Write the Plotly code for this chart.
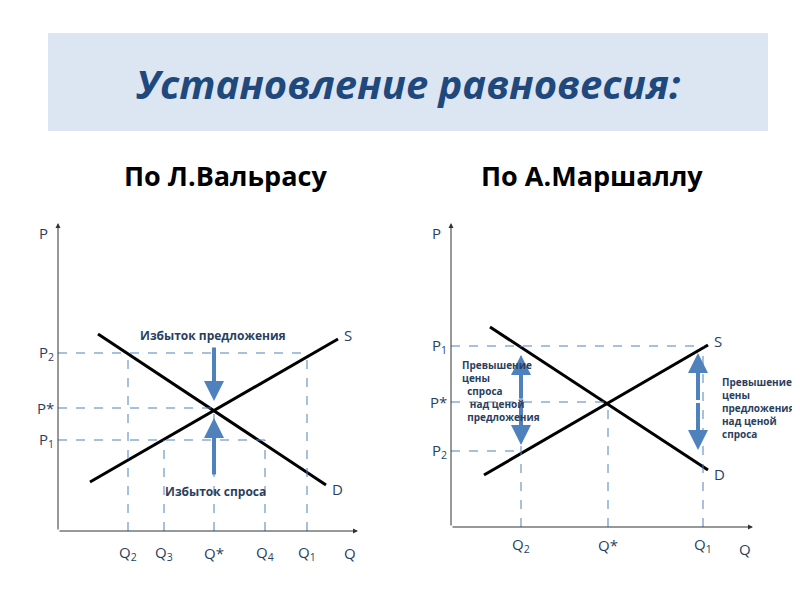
import plotly.graph_objects as go

# Left diagram (Walras), units: x from origin rightwards, y from origin upwards
w_supply_x = [32, 280]
w_supply_y = [49, 192]
w_demand_x = [40, 268]
w_demand_y = [197, 46]
w_eq = (156, 123)
w_price_lvls = {"P<sub>2</sub>": 178, "P*": 123, "P<sub>1</sub>": 91}
w_qty = {"Q<sub>2</sub>": 70, "Q<sub>3</sub>": 106, "Q*": 156, "Q<sub>4</sub>": 207, "Q<sub>1</sub>": 249}

# Right diagram (Marshall)
m_supply_x = [33, 257]
m_supply_y = [52, 182]
m_demand_x = [39, 257]
m_demand_y = [200, 57]
m_eq = (157, 125)
m_price_lvls = {"P<sub>1</sub>": 181, "P*": 125, "P<sub>2</sub>": 76}
m_qty = {"Q<sub>2</sub>": 70, "Q*": 157, "Q<sub>1</sub>": 252}

W, H = 800, 600
fig = go.Figure()
blue = "#4f81bd"
font = "Open Sans, Liberation Sans, sans-serif"


def dom_x(x0, x1):
    return [x0 / W, x1 / W]


def dom_y(top, bottom):
    return [1 - bottom / H, 1 - top / H]


fig.update_layout(
    width=W, height=H, margin=dict(l=0, r=0, t=0, b=0),
    paper_bgcolor="white", plot_bgcolor="rgba(0,0,0,0)", showlegend=False,
    xaxis=dict(domain=dom_x(0, 350), range=[-50, 300], visible=False),
    yaxis=dict(domain=dom_y(215, 563), range=[-40, 308], visible=False),
    xaxis2=dict(domain=dom_x(393, 795), range=[-50, 352], visible=False),
    yaxis2=dict(domain=dom_y(215, 559), range=[-40, 304], visible=False),
)

annotations = []
shapes = [
    dict(type="rect", xref="paper", yref="paper", x0=40 / W, x1=760 / W,
         y0=1 - 123 / H, y1=1 - 25 / H, fillcolor="#dce6f2", line_width=0, layer="below"),
]
annotations += [
    dict(xref="paper", yref="paper", x=0.5, y=1 - 75 / H, showarrow=False,
         xanchor="center", yanchor="middle",
         text="<b><i>Установление равновесия:</i></b>",
         font=dict(family=font, size=40, color="#1f497d")),
    dict(xref="paper", yref="paper", x=217 / W, y=1 - 167 / H, showarrow=False,
         xanchor="center", yanchor="middle",
         text="<b>По Л.Вальрасу</b>", font=dict(family=font, size=27, color="black")),
    dict(xref="paper", yref="paper", x=584 / W, y=1 - 167 / H, showarrow=False,
         xanchor="center", yanchor="middle",
         text="<b>По А.Маршаллу</b>", font=dict(family=font, size=27, color="black")),
]


def diagram(xa, ya, xmax, ymax, sx, sy, dx, dy):
    axref = xa.replace("axis", "")
    ayref = ya.replace("axis", "")
    # axes arrows
    annotations.append(dict(x=xmax, y=0, ax=0, ay=0, xref=axref, yref=ayref,
                            axref=axref, ayref=ayref, text="", showarrow=True,
                            arrowhead=2, arrowsize=1, arrowwidth=1, arrowcolor="#333"))
    annotations.append(dict(x=0, y=ymax, ax=0, ay=0, xref=axref, yref=ayref,
                            axref=axref, ayref=ayref, text="", showarrow=True,
                            arrowhead=2, arrowsize=1, arrowwidth=1, arrowcolor="#333"))
    fig.add_trace(go.Scatter(x=sx, y=sy, mode="lines", line=dict(color="black", width=3),
                             xaxis=axref, yaxis=ayref, hoverinfo="skip"))
    fig.add_trace(go.Scatter(x=dx, y=dy, mode="lines", line=dict(color="black", width=3),
                             xaxis=axref, yaxis=ayref, hoverinfo="skip"))
    annotations.append(dict(x=sx[1] + 4, y=sy[1] + 4, xref=axref, yref=ayref, text="S",
                            showarrow=False, xanchor="left", font=dict(family=font, size=15)))
    annotations.append(dict(x=dx[1] + 4, y=dy[1] - 4, xref=axref, yref=ayref, text="D",
                            showarrow=False, xanchor="left", font=dict(family=font, size=15)))
    annotations.append(dict(x=-8, y=ymax - 10, xref=axref, yref=ayref, text="P",
                            showarrow=False, xanchor="right", font=dict(family=font, size=15)))
    annotations.append(dict(x=xmax - 8, y=-22, xref=axref, yref=ayref, text="Q",
                            showarrow=False, font=dict(family=font, size=15)))
    return axref, ayref


def dashed(xr, yr, x0, y0, x1, y1):
    shapes.append(dict(type="line", xref=xr, yref=yr, x0=x0, y0=y0, x1=x1, y1=y1,
                       line=dict(color="#4f81bd", width=1, dash="dash")))


# Walras
xr, yr = diagram("xaxis", "yaxis", 300, 308, w_supply_x, w_supply_y, w_demand_x, w_demand_y)
p2, ps, p1 = w_price_lvls.values()
dashed(xr, yr, 0, p2, w_qty["Q<sub>1</sub>"], p2)
dashed(xr, yr, 0, ps, w_eq[0], ps)
dashed(xr, yr, 0, p1, w_qty["Q<sub>4</sub>"], p1)
for name, q in w_qty.items():
    top = p2 if name in ("Q<sub>2</sub>", "Q<sub>1</sub>") else (ps if name == "Q*" else p1)
    dashed(xr, yr, q, 0, q, top)
for name, p in w_price_lvls.items():
    annotations.append(dict(x=-2, y=p, xref=xr, yref=yr, text=name, showarrow=False,
                            xanchor="right", font=dict(family=font, size=15)))
for name, q in w_qty.items():
    annotations.append(dict(x=q, y=-22, xref=xr, yref=yr, text=name, showarrow=False,
                            font=dict(family=font, size=15)))
annotations += [
    dict(x=w_eq[0], y=w_eq[1] + 7, ax=w_eq[0], ay=w_eq[1] + 62, xref=xr, yref=yr, axref=xr, ayref=yr,
         text="", showarrow=True, arrowhead=2, arrowsize=1, arrowwidth=4, arrowcolor=blue),
    dict(x=w_eq[0], y=w_eq[1] - 10, ax=w_eq[0], ay=w_eq[1] - 68, xref=xr, yref=yr, axref=xr, ayref=yr,
         text="", showarrow=True, arrowhead=2, arrowsize=1, arrowwidth=4, arrowcolor=blue),
    dict(x=155, y=196, xref=xr, yref=yr, text="<b>Избыток предложения</b>", showarrow=False,
         font=dict(family=font, size=12)),
    dict(x=157, y=40, xref=xr, yref=yr, text="<b>Избыток спроса</b>", showarrow=False,
         font=dict(family=font, size=12)),
]

# Marshall
xr, yr = diagram("xaxis2", "yaxis2", 302, 304, m_supply_x, m_supply_y, m_demand_x, m_demand_y)
p1, ps, p2 = m_price_lvls.values()
dashed(xr, yr, 0, p1, m_qty["Q<sub>1</sub>"], p1)
dashed(xr, yr, 0, ps, m_eq[0], ps)
dashed(xr, yr, 0, p2, m_qty["Q<sub>2</sub>"], p2)
dashed(xr, yr, m_qty["Q<sub>2</sub>"], 0, m_qty["Q<sub>2</sub>"], p1)
dashed(xr, yr, m_qty["Q*"], 0, m_qty["Q*"], ps)
dashed(xr, yr, m_qty["Q<sub>1</sub>"], 0, m_qty["Q<sub>1</sub>"], p1)
for name, p in m_price_lvls.items():
    annotations.append(dict(x=-2, y=p, xref=xr, yref=yr, text=name, showarrow=False,
                            xanchor="right", font=dict(family=font, size=15)))
for name, q in m_qty.items():
    annotations.append(dict(x=q, y=-18, xref=xr, yref=yr, text=name, showarrow=False,
                            font=dict(family=font, size=15)))
for x, yt, yb in [(70, 172, 82), (247, 174, 77)]:
    annotations.append(dict(x=x, y=yt, ax=x, ay=(yt + yb) / 2, xref=xr, yref=yr, axref=xr, ayref=yr,
                            text="", showarrow=True, arrowhead=2, arrowwidth=4, arrowcolor=blue))
    annotations.append(dict(x=x, y=yb, ax=x, ay=(yt + yb) / 2, xref=xr, yref=yr, axref=xr, ayref=yr,
                            text="", showarrow=True, arrowhead=2, arrowwidth=4, arrowcolor=blue))
annotations += [
    dict(x=9, y=136, xref=xr, yref=yr, xanchor="left", showarrow=False, align="left",
         text="<b>Превышение<br>цены<br>  спроса<br>   над ценой<br>  предложения</b>",
         font=dict(family=font, size=10)),
    dict(x=269, y=119, xref=xr, yref=yr, xanchor="left", showarrow=False, align="left",
         text="<b>Превышение<br>цены<br>предложения<br>над ценой<br>спроса</b>",
         font=dict(family=font, size=10)),
]

fig.update_layout(annotations=annotations, shapes=shapes)
fig.write_html("out.html")
